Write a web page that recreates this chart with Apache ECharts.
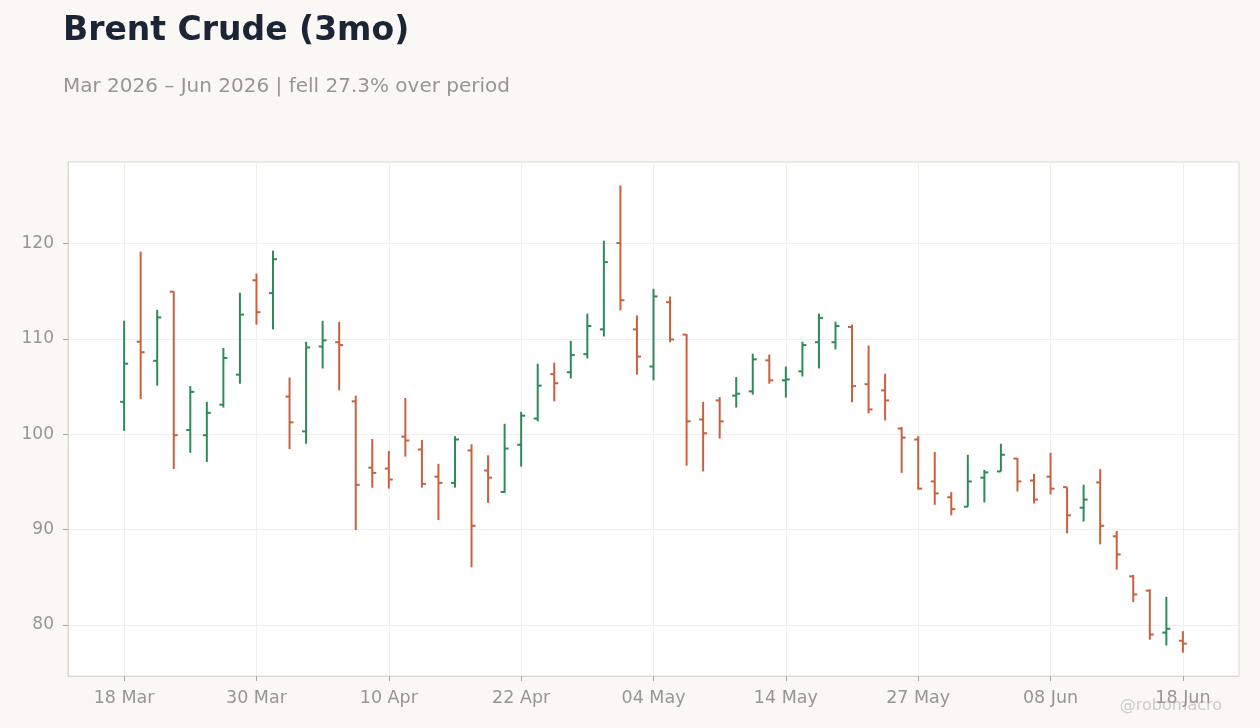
<!DOCTYPE html>
<html>
<head>
<meta charset="utf-8">
<script src="https://cdn.jsdelivr.net/npm/echarts@6/dist/echarts.min.js"></script>
<style>
  html, body { margin: 0; padding: 0; background: #f9f8f5; }
  #chart { width: 1260px; height: 728px; }
</style>
</head>
<body>
<div id="chart"></div>
<script>
// trading days shown on the category positions
var days = [
  '18 Mar', '19 Mar', '20 Mar', '23 Mar', '24 Mar', '25 Mar', '26 Mar', '27 Mar', '30 Mar', '31 Mar',
  '01 Apr', '02 Apr', '06 Apr', '07 Apr', '08 Apr', '09 Apr', '10 Apr',
  '13 Apr', '14 Apr', '15 Apr', '16 Apr', '17 Apr', '20 Apr', '21 Apr', '22 Apr',
  '23 Apr', '24 Apr', '27 Apr', '28 Apr', '29 Apr', '30 Apr', '01 May', '04 May',
  '05 May', '06 May', '07 May', '08 May', '11 May', '12 May', '13 May', '14 May',
  '15 May', '18 May', '19 May', '20 May', '21 May', '22 May', '26 May', '27 May',
  '28 May', '29 May', '01 Jun', '02 Jun', '03 Jun', '04 Jun', '05 Jun', '08 Jun',
  '09 Jun', '10 Jun', '11 Jun', '12 Jun', '15 Jun', '16 Jun', '17 Jun', '18 Jun'
];

var opens = [
  103.4, 109.7, 107.7, 114.95, 100.45, 99.9, 103.1, 106.25, 116.15, 114.8,
  103.95, 100.3, 109.2, 109.65, 103.45, 96.5, 96.4, 99.75, 98.4, 95.55,
  94.9, 98.3, 96.2, 93.95, 98.9, 101.65, 106.3, 106.5, 108.4, 111.0,
  120.05, 111.0, 107.1, 113.85, 110.45, 101.55, 103.55, 104.05, 104.5, 107.75,
  105.65, 106.6, 109.65, 109.65, 111.25, 105.25, 104.6, 100.6, 99.45, 95.05,
  93.4, 92.4, 95.45, 96.1, 97.45, 95.15, 95.55, 94.45, 92.3, 94.95,
  89.3, 85.1, 83.6, 79.2, 78.35
];
var closes = [
  107.4, 108.6, 112.25, 99.9, 104.45, 102.25, 108.0, 112.55, 112.8, 118.35,
  101.25, 109.1, 109.85, 109.35, 94.7, 95.95, 95.25, 99.35, 94.8, 94.9,
  99.45, 90.4, 95.45, 98.5, 101.95, 105.1, 105.35, 108.3, 111.35, 118.05,
  114.05, 108.15, 114.45, 109.95, 101.35, 100.1, 101.35, 104.25, 107.85, 105.65,
  105.75, 109.35, 112.2, 111.35, 105.05, 102.6, 103.55, 99.65, 94.3, 93.8,
  92.15, 95.05, 96.0, 97.85, 95.05, 93.15, 94.3, 91.5, 93.15, 90.4,
  87.4, 83.2, 79.0, 79.6, 78.05
];
var lows = [
  100.35, 103.7, 105.1, 96.35, 98.05, 97.1, 102.8, 105.3, 111.5, 111.0,
  98.45, 99.0, 106.9, 104.6, 89.95, 94.4, 94.3, 97.65, 94.4, 91.0,
  94.4, 86.05, 92.8, 93.85, 96.6, 101.35, 103.45, 105.85, 107.95, 110.25,
  113.0, 106.25, 105.65, 109.65, 96.7, 96.1, 99.55, 102.8, 104.15, 105.3,
  103.85, 106.05, 106.9, 108.9, 103.35, 102.2, 101.45, 95.95, 94.2, 92.6,
  91.5, 92.4, 92.85, 96.1, 94.0, 92.75, 93.7, 89.6, 90.85, 88.45,
  85.8, 82.4, 78.45, 77.85, 77.1
];
var highs = [
  111.9, 119.15, 113.05, 115.0, 105.05, 103.4, 109.05, 114.85, 116.85, 119.25,
  105.95, 109.7, 111.9, 111.8, 104.05, 99.5, 98.25, 103.8, 99.4, 96.9,
  99.8, 98.95, 97.8, 101.1, 102.35, 107.4, 107.5, 109.8, 112.65, 120.3,
  126.1, 112.45, 115.25, 114.45, 110.5, 103.4, 103.9, 106.0, 108.45, 108.35,
  107.1, 109.7, 112.65, 111.8, 111.5, 109.3, 106.35, 100.75, 99.8, 98.15,
  93.95, 97.85, 96.25, 99.0, 97.5, 95.85, 98.05, 94.45, 94.7, 96.35,
  89.85, 85.25, 83.75, 82.95, 79.35
];

var xTickIdx = [0, 8, 16, 24, 32, 40, 48, 56, 64];
var yTicks = [80, 90, 100, 110, 120];

var UP = '#2e8b57';
var DOWN = '#c9603f';
var MUTED = '#999590';
var LINE = '#dcd8d1';
var FONT = 'DejaVu Sans';

var bars = days.map(function (d, i) {
  return [i, opens[i], closes[i], lows[i], highs[i]];
});

var lo = Math.min.apply(null, lows);
var hi = Math.max.apply(null, highs);
var pad = (hi - lo) * 0.05;
var xPad = (days.length - 1) * 0.053;

function renderBar(params, api) {
  var i = api.value(0);
  var o = api.coord([i, api.value(1)]);
  var c = api.coord([i, api.value(2)]);
  var l = api.coord([i, api.value(3)]);
  var h = api.coord([i, api.value(4)]);
  var color = api.value(2) >= api.value(1) ? UP : DOWN;
  var st = { stroke: color, lineWidth: 2 };
  return {
    type: 'group',
    children: [
      { type: 'line', shape: { x1: l[0], y1: l[1], x2: h[0], y2: h[1] }, style: st },
      { type: 'line', shape: { x1: o[0] - 4, y1: o[1], x2: o[0], y2: o[1] }, style: st },
      { type: 'line', shape: { x1: c[0], y1: c[1], x2: c[0] + 4, y2: c[1] }, style: st }
    ]
  };
}

var chart = echarts.init(document.getElementById('chart'));
chart.setOption({
  backgroundColor: '#f9f8f5',
  animation: false,
  textStyle: { fontFamily: FONT },
  title: {
    text: 'Brent Crude (3mo)',
    subtext: 'Mar 2026 \u2013 Jun 2026 | fell 27.3% over period',
    left: 58,
    top: 10,
    itemGap: 29,
    textStyle: { fontSize: 33, fontWeight: 'bold', color: '#1c2536', fontFamily: FONT },
    subtextStyle: { fontSize: 20, color: MUTED, fontFamily: FONT }
  },
  graphic: [{
    type: 'text',
    right: 38,
    bottom: 14,
    style: { text: '@robomacro', fontSize: 16, fill: '#cfcbc5', fontFamily: FONT }
  }],
  grid: {
    left: 68, right: 21, top: 162, bottom: 52,
    show: true, backgroundColor: '#ffffff', borderColor: LINE, borderWidth: 1
  },
  xAxis: {
    type: 'value',
    min: -xPad,
    max: days.length - 1 + xPad,
    axisLine: { show: true, onZero: false, lineStyle: { color: LINE } },
    axisTick: { show: true, length: 5, customValues: xTickIdx, lineStyle: { color: '#aaa6a0' } },
    axisLabel: {
      customValues: xTickIdx,
      color: MUTED, fontSize: 17.5, margin: 13, fontFamily: FONT,
      formatter: function (v) { return days[Math.round(v)] || ''; }
    },
    splitLine: { show: true, lineStyle: { color: '#f0efed' } }
  },
  yAxis: {
    type: 'value',
    min: lo - pad,
    max: hi + pad,
    axisLine: { show: true, onZero: false, lineStyle: { color: LINE } },
    axisTick: { show: true, length: 5, customValues: yTicks, lineStyle: { color: '#aaa6a0' } },
    axisLabel: { customValues: yTicks, color: MUTED, fontSize: 17, margin: 14, fontFamily: FONT },
    splitLine: { show: true, lineStyle: { color: '#f0efed' } }
  },
  series: [{
    type: 'custom',
    renderItem: renderBar,
    encode: { x: 0, y: [1, 2, 3, 4] },
    data: bars
  }]
});
</script>
</body>
</html>
